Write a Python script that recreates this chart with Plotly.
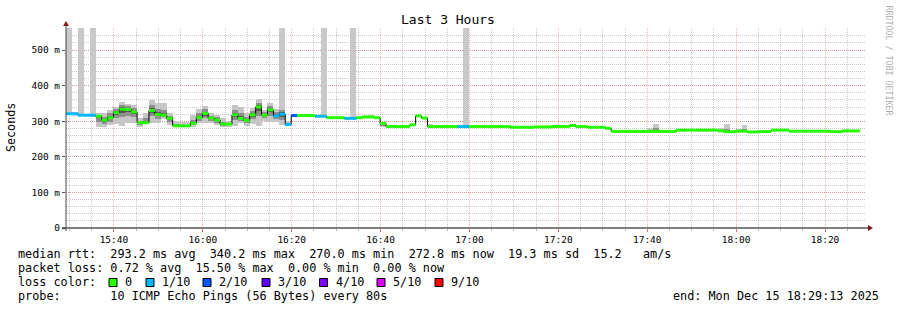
import pandas as pd
import plotly.graph_objects as go

# ---------------- data ----------------
title = "Last 3 Hours"
t_start = "2025-12-15 15:29:13"
t_end = "2025-12-15 18:29:13"
step_seconds = 80

# median rtt per 80 s step (ms)
median_ms = ([321, 321, 317, 317, 317,
              314, 303, 310, 324, 334, 333, 326, 296, 296, 330, 319, 317, 308,
              287, 287, 287, 294, 310, 322, 309, 303, 292, 292, 318, 308, 302,
              318, 340.2, 317, 332, 315, 320, 291,
              316, 316, 316, 316, 314, 314, 310, 310, 310, 308, 308,
              310, 312, 312, 310, 294, 285, 285, 285, 285, 290, 315, 309]
             + [285] * 7 + [285] * 7
             + [283, 283, 283, 283, 284, 284, 284]
             + [285, 285, 285, 288, 285, 285, 283, 283, 283, 280]
             + [271.5] * 11 + [275] * 7
             + [273, 270.5, 270.5, 272, 272, 270.0, 270.0, 271, 271, 275, 275, 275]
             + [272] * 7 + [270.8, 270.8, 272.8, 272.8, 272.8])

# packet loss per step (%), steps not listed have 0 %
loss_pct = {0: 10, 1: 3, 2: 10, 3: 3, 4: 10, 35: 3, 36: 10, 37: 3, 38: 15.5,
            42: 3, 43: 10, 47: 3, 48: 10, 66: 3, 67: 10}
# steps with a lost ping drawn to the top of the graph
lost_ping_steps = [0, 2, 4, 36, 43, 48, 67]

# smoke spread above / below the median (ms)
smoke_outer_up = {0: 4, 1: 4, 2: 3, 3: 3, 4: 3, 5: 8, 6: 19, 7: 21, 8: 15, 9: 20,
                  10: 15, 11: 19, 12: 12, 13: 26, 14: 30, 15: 31, 16: 33, 17: 14,
                  18: 14, 19: 12, 20: 12, 21: 23, 22: 23, 23: 21, 24: 13, 25: 14,
                  26: 16, 27: 9, 28: 27, 29: 31, 30: 20, 31: 18, 32: 21, 33: 14,
                  34: 20, 35: 18, 36: 23, 37: 10, 38: 2, 41: 4, 51: 3, 53: 5,
                  61: 7, 69: 2, 75: 2, 82: 2, 84: 3, 85: 4, 98: 9, 99: 21,
                  110: 8, 111: 22, 113: 6, 114: 17}
smoke_outer_dn = {0: 2, 1: 1, 2: 1, 3: 1, 4: 6, 5: 29, 6: 18, 7: 21, 8: 32, 9: 47,
                  10: 37, 11: 30, 12: 13, 13: 4, 14: 34, 15: 23, 16: 12, 17: 19,
                  18: 4, 19: 3, 20: 3, 21: 9, 22: 16, 23: 28, 24: 15, 25: 14,
                  26: 9, 27: 7, 28: 31, 29: 14, 30: 15, 31: 26, 32: 53, 33: 16,
                  34: 33, 35: 16, 36: 31, 37: 4, 38: 2, 53: 11}
smoke_inner_up = {5: 4, 6: 10, 7: 12, 8: 9, 9: 12, 10: 9, 11: 10, 12: 6, 13: 12,
                  14: 16, 15: 14, 16: 15, 17: 8, 18: 4, 19: 3, 20: 3, 21: 10,
                  22: 12, 23: 12, 24: 7, 25: 8, 26: 7, 27: 4, 28: 14, 29: 15,
                  30: 10, 31: 10, 32: 12, 33: 8, 34: 11, 35: 10, 36: 12, 37: 5,
                  53: 3, 85: 2, 99: 10, 111: 8, 113: 4, 114: 6}
smoke_inner_dn = {5: 15, 6: 10, 7: 11, 8: 16, 9: 22, 10: 18, 11: 15, 12: 7, 13: 2,
                  14: 16, 15: 12, 16: 6, 17: 10, 18: 2, 19: 1, 20: 1, 21: 5,
                  22: 8, 23: 14, 24: 8, 25: 7, 26: 5, 27: 3, 28: 15, 29: 7,
                  30: 8, 31: 12, 32: 25, 33: 8, 34: 16, 35: 8, 36: 16, 37: 2,
                  53: 6}
smoke_core_up = {5: 2, 6: 4, 7: 5, 8: 4, 9: 5, 10: 4, 11: 4, 12: 3, 13: 5, 14: 7,
                 15: 6, 16: 6, 17: 3, 21: 4, 22: 5, 23: 5, 24: 3, 25: 3, 26: 3,
                 28: 6, 29: 6, 30: 4, 31: 4, 32: 6, 33: 3, 34: 5, 35: 4, 36: 6, 99: 4}
smoke_core_dn = {5: 6, 6: 4, 7: 5, 8: 7, 9: 10, 10: 8, 11: 6, 12: 3, 14: 7, 15: 5,
                 16: 3, 17: 4, 21: 2, 22: 3, 23: 6, 24: 3, 25: 3, 26: 2, 28: 6,
                 29: 3, 30: 3, 31: 5, 32: 11, 33: 3, 34: 7, 35: 3, 36: 7}

y_top_ms = 562
y_tick_vals = [0, 100, 200, 300, 400, 500]
y_tick_text = ["0", "100 m", "200 m", "300 m", "400 m", "500 m"]

loss_labels = ["0", "1/10", "2/10", "3/10", "4/10", "5/10", "9/10"]
loss_colors = ["#26ff00", "#00b8ff", "#0059ff", "#5e00ff", "#7e00ff", "#dd00ff", "#ff0000"]

legend_lines = [
    "median rtt:  293.2 ms avg  340.2 ms max  270.0 ms min  272.8 ms now  19.3 ms sd  15.2   am/s",
    "packet loss: 0.72 % avg  15.50 % max  0.00 % min  0.00 % now",
    "loss color:",
    "probe:       10 ICMP Echo Pings (56 Bytes) every 80s",
]
end_text = "end: Mon Dec 15 18:29:13 2025"

# ---------------- build ----------------
n = len(median_ms)
step = pd.Timedelta(seconds=step_seconds)
starts = pd.date_range(t_start, periods=n, freq=f"{step_seconds}s")
centers = starts + step / 2
ends = starts + step


def expand(d):
    return [d.get(i, 0) for i in range(n)]


loss = expand(loss_pct)

MONO = "DejaVu Sans Mono"
fig = go.Figure()

# tall lost-ping bars
fig.add_trace(go.Bar(
    x=[centers[i] for i in lost_ping_steps],
    y=[y_top_ms - median_ms[i] for i in lost_ping_steps],
    base=[median_ms[i] for i in lost_ping_steps],
    width=step_seconds * 1000, marker=dict(color="#c8c8c8", line=dict(width=0)),
    hoverinfo="skip"))

for up_d, dn_d, col in [(smoke_outer_up, smoke_outer_dn, "#c6c6c6"),
                        (smoke_inner_up, smoke_inner_dn, "#8e8e8e"),
                        (smoke_core_up, smoke_core_dn, "#555555")]:
    up, dn = expand(up_d), expand(dn_d)
    fig.add_trace(go.Bar(
        x=centers, y=[u + d for u, d in zip(up, dn)],
        base=[m - d for m, d in zip(median_ms, dn)],
        width=step_seconds * 1000, marker=dict(color=col, line=dict(width=0)),
        hoverinfo="skip"))

# black median connector
fig.add_trace(go.Scatter(
    x=list(starts) + [ends[-1]], y=list(median_ms) + [median_ms[-1]],
    mode="lines", line=dict(color="black", width=1, shape="hv"), hoverinfo="skip"))


def loss_bucket(p):
    if p <= 0:
        return 0
    b = int(-(-p // 10))
    return b if b <= 5 else 6


segs = {}
for i in range(n):
    b = loss_bucket(loss[i])
    xs, ys = segs.setdefault(b, ([], []))
    xs += [starts[i], ends[i], None]
    ys += [median_ms[i], median_ms[i], None]
for b, (xs, ys) in segs.items():
    fig.add_trace(go.Scatter(x=xs, y=ys, mode="lines",
                             line=dict(color=loss_colors[b], width=3), hoverinfo="skip"))

# ---------------- layout ----------------
L, R, T, B = 66, 31, 28, 82
W, H = 897, 310
PW, PH = W - L - R, H - T - B


def px(x):
    return (x - L) / PW


def py(y):
    return (H - B - y) / PH


major_grid = "rgba(235,90,90,0.45)"
minor_grid = "rgba(150,150,150,0.5)"

fig.update_layout(
    width=W, height=H, autosize=False,
    margin=dict(l=L, r=R, t=T, b=B, pad=0),
    paper_bgcolor="white", plot_bgcolor="white",
    showlegend=False, barmode="overlay", bargap=0,
    font=dict(family=MONO, color="black"),
    xaxis=dict(
        type="date", range=[t_start, t_end],
        tick0="2025-12-15 15:40:00", dtick=20 * 60 * 1000, tickformat="%H:%M",
        showgrid=True, gridcolor=major_grid, griddash="1px,1px", gridwidth=1,
        ticks="outside", ticklen=3, tickcolor="#e07070",
        tickfont=dict(family=MONO, size=9.5, color="black"),
        minor=dict(dtick=5 * 60 * 1000, tick0="2025-12-15 15:30:00",
                   showgrid=True, gridcolor=minor_grid, griddash="1px,1px",
                   ticks="outside", ticklen=2, tickcolor="#b8b8b8"),
        showline=False, zeroline=False, fixedrange=True),
    yaxis=dict(
        range=[0, y_top_ms], tickmode="array", tickvals=y_tick_vals, ticktext=y_tick_text,
        showgrid=True, gridcolor=major_grid, griddash="1px,1px", gridwidth=1,
        ticks="outside", ticklen=3, tickcolor="#555555",
        tickfont=dict(family=MONO, size=9.5, color="black"),
        minor=dict(dtick=20, tick0=0, showgrid=True, gridcolor=minor_grid,
                   griddash="1px,1px", ticks=""),
        showline=False, zeroline=False, fixedrange=True),
)

shapes = [
    dict(type="line", xref="paper", yref="paper", x0=px(62), x1=px(869), y0=0, y1=0,
         line=dict(color="black", width=1)),
    dict(type="path", xref="paper", yref="paper",
         path=f"M {px(868)} {py(225)} L {px(873)} {py(228)} L {px(868)} {py(231)} Z",
         fillcolor="#8b1a1a", line=dict(width=0)),
    dict(type="line", xref="paper", yref="paper", x0=0, x1=0, y0=py(231), y1=py(25),
         line=dict(color="#444444", width=1)),
    dict(type="path", xref="paper", yref="paper",
         path=f"M {px(63)} {py(26)} L {px(66)} {py(21)} L {px(69)} {py(26)} Z",
         fillcolor="#8b1a1a", line=dict(width=0)),
]

annotations = [
    dict(text=title, xref="paper", yref="paper", x=px(448), y=py(19.5),
         xanchor="center", yanchor="middle", showarrow=False,
         font=dict(family=MONO, size=13, color="black")),
    dict(text="Seconds", xref="paper", yref="paper", x=px(10.5), y=py(127.5),
         xanchor="center", yanchor="middle", textangle=-90, showarrow=False,
         font=dict(family=MONO, size=11.7, color="black")),
    dict(text="RRDTOOL / TOBI OETIKER", xref="paper", yref="paper", x=px(888.5), y=py(60),
         xanchor="center", yanchor="middle", textangle=90, showarrow=False,
         font=dict(family=MONO, size=8.3, color="#b0b0b0")),
    dict(text=end_text.replace(" ", "\u00a0"), xref="paper", yref="paper",
         x=px(881), y=py(296.3), xanchor="right", yanchor="middle", showarrow=False,
         font=dict(family=MONO, size=11.8, color="black")),
]
line_y = [254.3, 268.3, 282.3, 296.3]
for txt, yy in zip(legend_lines, line_y):
    annotations.append(dict(text=txt.replace(" ", "\u00a0"), xref="paper", yref="paper",
                            x=px(16), y=py(yy), xanchor="left", yanchor="middle",
                            showarrow=False, font=dict(family=MONO, size=11.8, color="black")))

box_x = [109, 146, 203, 262, 319.5, 377, 435]
for bx, lab, col in zip(box_x, loss_labels, loss_colors):
    shapes.append(dict(type="rect", xref="paper", yref="paper",
                       x0=px(bx), x1=px(bx + 8), y0=py(286.5), y1=py(278.5),
                       fillcolor=col, line=dict(color="black", width=1)))
    annotations.append(dict(text=lab, xref="paper", yref="paper", x=px(bx + 14), y=py(282.3),
                            xanchor="left", yanchor="middle", showarrow=False,
                            font=dict(family=MONO, size=11.8, color="black")))

fig.update_layout(shapes=shapes, annotations=annotations)
fig.write_html("out.html")
